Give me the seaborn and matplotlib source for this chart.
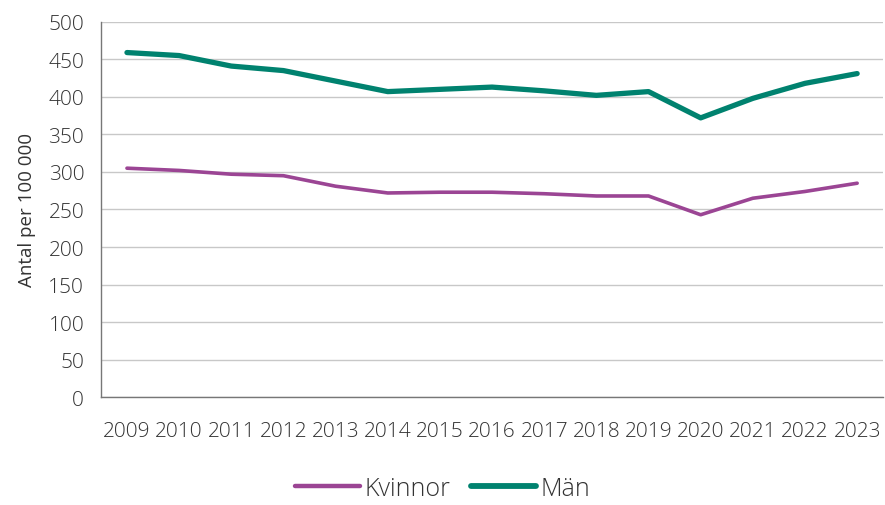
import numpy as np
import pandas as pd
import matplotlib
matplotlib.use('Agg')
import matplotlib.pyplot as plt
from matplotlib.ticker import MultipleLocator, FixedLocator
import seaborn as sns

years = [str(y) for y in range(2009, 2024)]
kvinnor = [305, 302, 297, 295, 281, 272, 273, 273, 271, 268, 268, 243, 265, 274, 285]
man = [459, 455, 441, 435, 421, 407, 410, 413, 408, 402, 407, 372, 398, 418, 431]

df = pd.DataFrame({'År': years * 2,
                   'Värde': kvinnor + man,
                   'Kön': ['Kvinnor'] * len(years) + ['Män'] * len(years)})

sns.set_style('white')
plt.rcParams['font.family'] = ['Open Sans', 'DejaVu Sans']
plt.rcParams['font.weight'] = 'light'
textcol = '#333333'

fig = plt.figure(figsize=(8.85, 5.06), dpi=100)
ax = fig.add_axes([0.114, 0.213, 0.884, 0.742])

palette = {'Kvinnor': '#9B4594', 'Män': '#00826F'}
sns.lineplot(data=df, x='År', y='Värde', hue='Kön', palette=palette,
             size='Kön', sizes={'Kvinnor': 2.6, 'Män': 3.8},
             solid_capstyle='round', ax=ax, legend=False)

ax.set_ylim(0, 500)
ax.set_xlim(-0.5, len(years) - 0.5)
ax.yaxis.set_major_locator(MultipleLocator(50))
ax.grid(axis='y', color='#c8c8c8', linewidth=1)
ax.set_axisbelow(True)

ax.xaxis.set_minor_locator(FixedLocator(np.arange(-0.5, len(years), 1)))
ax.tick_params(axis='x', which='major', length=0, pad=17, labelsize=15, labelcolor=textcol)
ax.tick_params(axis='x', which='minor', length=6, color='#777777', width=1, direction='out')
ax.tick_params(axis='y', length=6, color='#777777', width=1, direction='out', pad=6,
               labelsize=15, labelcolor=textcol)

for s in ['top', 'right']:
    ax.spines[s].set_visible(False)
for s in ['left', 'bottom']:
    ax.spines[s].set_color('#777777')
    ax.spines[s].set_linewidth(1)

ax.set_xlabel('')
ax.set_ylabel('Antal per 100 000', fontsize=13.5, color=textcol, labelpad=9)

handles = [plt.Line2D([], [], color=palette['Kvinnor'], lw=3.2, solid_capstyle='round'),
           plt.Line2D([], [], color=palette['Män'], lw=4.2, solid_capstyle='round')]
fig.legend(handles, ['Kvinnor', 'Män'], loc='lower center', bbox_to_anchor=(0.5, -0.036),
           ncol=2, frameon=False, fontsize=18, handlelength=2.6, handletextpad=0.2,
           columnspacing=0.8, labelcolor=textcol)

fig.savefig('out.png', dpi=100)
